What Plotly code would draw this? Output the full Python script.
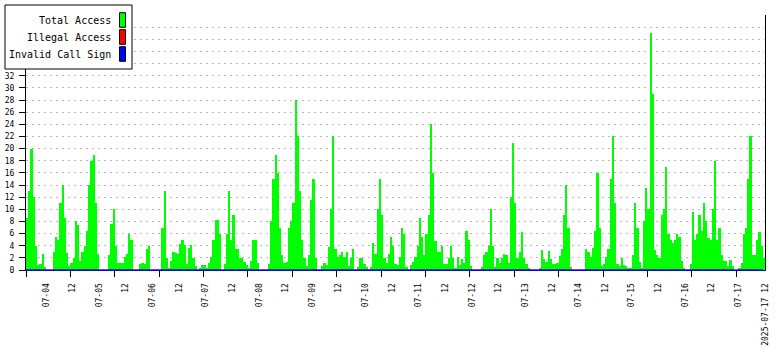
import plotly.graph_objects as go
import pandas as pd

# ---------------- data (hourly) ----------------
series_names = ["Total Access", "Illegal Access", "Invalid Call Sign"]
series_colors = ["#00ff00", "#ff0000", "#0000ff"]

range_start = "2025-07-03 15:00"
range_end = "2025-07-17 12:00"

total_access = [
    8.5, 13, 20, 12, 4, 0.8, 1, 2.6, 0.5, 0,
    0, 0, 3, 5.5, 5, 11, 14, 8.5, 2.8, 0.7,
    1.1, 2, 8, 7.4, 1.5, 3, 4, 6.5, 14, 18,
    19, 11, 2.6, 0, 0, 0, 0, 2.5, 7.5, 10,
    4, 1.1, 1.1, 1.1, 2.2, 2.6, 6, 5, 0, 0,
    0, 1, 1.2, 1, 3.5, 4, 0, 0, 0, 0,
    0, 7, 13, 2, 0.3, 1.5, 3, 2.8, 2.7, 4.3,
    5, 4.2, 1, 3.7, 4.2, 2, 0.6, 0, 0.4, 0.9,
    0.8, 0.4, 1.2, 2.1, 5, 8.3, 8.3, 6, 0, 1,
    6, 13, 5, 9, 3.5, 3.5, 2, 2, 1.4, 0.8,
    0.3, 1.5, 5, 5, 1.2, 0, 0, 0, 0, 1,
    8, 15, 19, 16, 7, 2.4, 1.1, 1.3, 7, 8,
    11, 28, 22, 13, 5, 2, 0.6, 2.5, 11.5, 15,
    2, 0, 0, 0.6, 1.1, 0.8, 3.8, 10, 22, 3.5,
    2.2, 2.5, 3, 2.2, 3, 0.6, 2, 3.5, 0, 0.5,
    2, 2, 1, 0.5, 0, 0.5, 4.5, 2.7, 10, 15,
    9, 2, 1.2, 2.6, 5.5, 4, 1, 0.8, 2.2, 7,
    6, 0.5, 0, 0.8, 1.4, 2.2, 4, 8.5, 5.5, 2.5,
    6, 9, 24, 16, 4.7, 3, 3, 4, 1, 1,
    2, 4, 2, 0.3, 2.2, 0.8, 1.8, 1.1, 6.5, 5,
    0.7, 0, 0, 0, 0, 0.5, 2.5, 2.9, 4, 10,
    4, 0.5, 1.9, 1.1, 1.9, 2.6, 2.5, 1.1, 12, 21,
    11, 1.9, 3, 6.3, 2, 1, 0.4, 0, 0, 0,
    0, 0.4, 3.3, 1.8, 1.3, 3.2, 1.8, 1, 1, 1.2,
    2.3, 3.5, 9, 14, 7, 0.5, 0, 0, 0, 0,
    0, 0, 3.5, 3, 2.2, 3.6, 6.5, 16, 7, 0.6,
    1, 2.2, 3.5, 15, 22, 11, 1, 0.6, 2, 0.8,
    0.6, 0.4, 0.4, 2.5, 11, 7, 1.3, 0.2, 8, 13.5,
    10, 39, 29, 3.3, 2.5, 2, 9, 10, 17, 6,
    5, 4.5, 5, 6, 5.5, 1.5, 0.2, 0, 0, 1,
    9.5, 5, 6, 9, 6.5, 11, 8, 5.3, 5, 10,
    18, 5, 7, 2.5, 1.5, 1.5, 0.6, 1.6, 0.6, 0,
    0, 0.2, 1.1, 6, 7, 15, 22, 2.5, 2.5, 5,
    6.3, 4, 2,
]

illegal_access = [
    0, 0, 0, 0, 0, 0, 0, 0, 0, 0, 0, 0, 0, 0, 0, 0, 0, 0, 0, 0, 0, 0, 0, 0, 0, 0, 0, 0, 0, 0,
    0, 0, 0, 0, 0, 0, 0, 0, 0, 0, 0, 0, 0, 0, 0, 0, 0, 0, 0, 0, 0, 0, 0, 0, 0, 0, 0, 0, 0, 0,
    0, 0, 0, 0, 0, 0, 0, 0, 0, 0, 0, 0, 0, 0, 0, 0, 0, 0, 0, 0, 0, 0, 0, 0, 0, 0, 0, 0, 0, 0,
    0, 0, 0, 0, 0, 0, 0, 0, 0, 0, 0, 0, 0, 0, 0, 0, 0, 0, 0, 0, 0, 0, 0, 0, 0, 0, 0, 0, 0, 0,
    0, 0, 0, 0, 0, 0, 0, 0, 0, 0, 0, 0, 0, 0, 0, 0, 0, 0, 0, 0, 0, 0, 0, 0, 0, 0, 0, 0, 0, 0,
    0, 0, 0, 0, 0, 0, 0, 0, 0, 0, 0, 0, 0, 0, 0, 0, 0, 0, 0, 0, 0, 0, 0, 0, 0, 0, 0, 0, 0, 0,
    0, 0, 0, 0, 0, 0, 0, 0, 0, 0, 0, 0, 0, 0, 0, 0, 0, 0, 0, 0, 0, 0, 0, 0, 0, 0, 0, 0, 0, 0,
    0, 0, 0, 0, 0, 0, 0, 0, 0, 0, 0, 0, 0, 0, 0, 0, 0, 0, 0, 0, 0, 0, 0, 0, 0, 0, 0, 0, 0, 0,
    0, 0, 0, 0, 0, 0, 0, 0, 0, 0, 0, 0, 0, 0, 0, 0, 0, 0, 0, 0, 0, 0, 0, 0, 0, 0, 0, 0, 0, 0,
    0, 0, 0, 0, 0, 0, 0, 0, 0, 0, 0, 0, 0, 0, 0, 0, 0, 0, 0, 0, 0, 0, 0, 0, 0, 0, 0, 0, 0, 0,
    0, 0, 0, 0, 0, 0, 0, 0, 0, 0, 0, 0, 0, 0, 0, 0, 0, 0, 0, 0, 0, 0, 0, 0, 0, 0, 0, 0, 0, 0,
    0, 0, 0,
]

invalid_call_sign = [
    0, 0, 0, 0, 0, 0, 0, 0, 0, 0, 0, 0, 0, 0, 0, 0, 0, 0, 0, 0, 0, 0, 0, 0, 0, 0, 0, 0, 0, 0,
    0, 0, 0, 0, 0, 0, 0, 0, 0, 0, 0, 0, 0, 0, 0, 0, 0, 0, 0, 0, 0, 0, 0, 0, 0, 0, 0, 0, 0, 0,
    0, 0, 0, 0, 0, 0, 0, 0, 0, 0, 0, 0, 0, 0, 0, 0, 0, 0, 0, 0, 0, 0, 0, 0, 0, 0, 0, 0, 0, 0,
    0, 0, 0, 0, 0, 0, 0, 0, 0, 0, 0, 0, 0, 0, 0, 0, 0, 0, 0, 0, 0, 0, 0, 0, 0, 0, 0, 0, 0, 0,
    0, 0, 0, 0, 0, 0, 0, 0, 0, 0, 0, 0, 0, 0, 0, 0, 0, 0, 0, 0, 0, 0, 0, 0, 0, 0, 0, 0, 0, 0,
    0, 0, 0, 0, 0, 0, 0, 0, 0, 0, 0, 0, 0, 0, 0, 0, 0, 0, 0, 0, 0, 0, 0, 0, 0, 0, 0, 0, 0, 0,
    0, 0, 0, 0, 0, 0, 0, 0, 0, 0, 0, 0, 0, 0, 0, 0, 0, 0, 0, 0, 0, 0, 0, 0, 0, 0, 0, 0, 0, 0,
    0, 0, 0, 0, 0, 0, 0, 0, 0, 0, 0, 0, 0, 0, 0, 0, 0, 0, 0, 0, 0, 0, 0, 0, 0, 0, 0, 0, 0, 0,
    0, 0, 0, 0, 0, 0, 0, 0, 0, 0, 0, 0, 0, 0, 0, 0, 0, 0, 0, 0, 0, 0, 0, 0, 0, 0, 0, 0, 0, 0,
    0, 0, 0, 0, 0, 0, 0, 0, 0, 0, 0, 0, 0, 0, 0, 0, 0, 0, 0, 0, 0, 0, 0, 0, 0, 0, 0, 0, 0, 0,
    0, 0, 0, 0, 0, 0, 0, 0, 0, 0, 0, 0, 0, 0, 0, 0, 0, 0, 0, 0, 0, 0, 0, 0, 0, 0, 0, 0, 0, 0,
    0, 0, 0,
]

x_tick_labels = [
    "07-04", "12", "07-05", "12", "07-06", "12", "07-07", "12",
    "07-08", "12", "07-09", "12", "07-10", "12", "07-11", "12",
    "07-12", "12", "07-13", "12", "07-14", "12", "07-15", "12",
    "07-16", "12", "07-17", "2025-07-17 12",
]

y_tick_values = [0, 2, 4, 6, 8, 10, 12, 14, 16, 18, 20, 22, 24, 26, 28, 30, 32,
                 34, 36, 38, 40, 42]
y_tick_labels = ["0", "2", "4", "6", "8", "10", "12", "14", "16", "18", "20",
                 "22", "24", "26", "28", "30", "32", "", "", "", "", ""]

# ---------------- figure ----------------
times = pd.date_range(range_start, periods=len(total_access), freq="h")
x_tick_values = pd.date_range("2025-07-04 00:00", range_end, freq="12h")

MONO = "DejaVu Sans Mono"
HOUR_MS = 3600 * 1000

fig = go.Figure()
fig.add_trace(go.Bar(
    x=times, y=total_access, width=HOUR_MS, offset=0,
    marker=dict(color=series_colors[0], line=dict(width=0)),
    name=series_names[0], showlegend=False,
))
fig.add_trace(go.Scatter(
    x=times, y=illegal_access, mode="lines", xaxis="x2",
    line=dict(color=series_colors[1], width=1.2, shape="hv"),
    name=series_names[1], showlegend=False, cliponaxis=False,
))
fig.add_trace(go.Scatter(
    x=times, y=invalid_call_sign, mode="lines", xaxis="x2",
    line=dict(color=series_colors[2], width=1.2, shape="hv"),
    name=series_names[2], showlegend=False, cliponaxis=False,
))

# plot-area geometry in pixels (used for the hand-made legend box)
W, H = 780, 350
ML, MR, MT, MB = 26, 15, 15, 80
PW, PH = W - ML - MR, H - MT - MB


def px_x(px):
    return (px - ML) / PW


def px_y(py):
    return (H - MB - py) / PH


shapes = [dict(type="rect", xref="paper", yref="paper",
               x0=px_x(5), x1=px_x(132), y0=px_y(69), y1=px_y(5),
               fillcolor="white", line=dict(color="black", width=1),
               layer="above")]
annotations = []
row_centers = [20, 37, 54]
for name, color, cy in zip(series_names, series_colors, row_centers):
    shapes.append(dict(type="rect", xref="paper", yref="paper",
                       x0=px_x(119.5), x1=px_x(125.5),
                       y0=px_y(cy + 7.3), y1=px_y(cy - 7.3),
                       fillcolor=color, line=dict(color="black", width=1),
                       layer="above"))
    annotations.append(dict(xref="paper", yref="paper", x=px_x(113), y=px_y(cy),
                            xanchor="right", yanchor="middle", showarrow=False,
                            text=name, font=dict(family=MONO, size=10, color="black")))

fig.update_layout(
    width=W, height=H,
    margin=dict(l=ML, r=MR, t=MT, b=MB, pad=0),
    paper_bgcolor="white", plot_bgcolor="white",
    showlegend=False,
    bargap=0,
    xaxis=dict(
        type="date", range=[range_start, range_end],
        tickmode="array", tickvals=x_tick_values, ticktext=x_tick_labels,
        tickangle=-90, ticks="", ticklabelstandoff=9,
        tickfont=dict(family=MONO, size=8, color="black"),
        showgrid=False, zeroline=False,
        showline=True, linecolor=series_colors[2], linewidth=1,
        automargin=False, fixedrange=True,
    ),
    xaxis2=dict(
        type="date", range=[range_start, range_end],
        overlaying="x", anchor="y", side="bottom",
        tickmode="linear", tick0=range_start, dtick=20 * HOUR_MS,
        ticks="outside", ticklen=6, tickwidth=1, tickcolor="black",
        showticklabels=False, showgrid=False, zeroline=False, showline=False,
        automargin=False, fixedrange=True,
    ),
    yaxis=dict(
        range=[0, 42], tickmode="array",
        tickvals=y_tick_values, ticktext=y_tick_labels,
        ticks="outside", ticklen=6, tickwidth=1, tickcolor="black",
        ticklabelstandoff=3,
        tickfont=dict(family=MONO, size=8, color="black"),
        showline=True, linecolor="black", linewidth=1, mirror=True,
        showgrid=True, gridcolor="#b8b8b8", gridwidth=1, griddash="2px,4px",
        zeroline=False, automargin=False, fixedrange=True,
    ),
    shapes=shapes,
    annotations=annotations,
)

fig.write_html("out.html")
